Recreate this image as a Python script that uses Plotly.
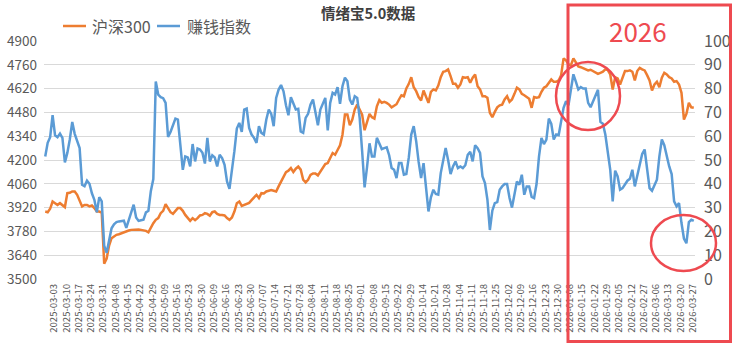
import pandas as pd
import plotly.graph_objects as go

# Trading calendar: weekdays from 2025-03-03, minus exchange holidays
start_date = "2025-03-03"
end_date = "2026-04-02"
holidays = [
    "2025-04-04", "2025-05-01", "2025-05-02", "2025-05-05", "2025-06-02",
    "2025-10-01", "2025-10-02", "2025-10-03", "2025-10-06", "2025-10-07",
    "2025-10-08", "2026-01-01", "2026-01-02", "2026-02-16", "2026-02-17",
    "2026-02-18", "2026-02-19", "2026-02-20", "2026-02-23",
]

# 沪深300 closing level (left axis)
hs300 = [
    3897, 3893, 3913, 3956, 3946, 3936, 3946, 3936, 3923, 4005,
    4007, 4015, 4015, 3995, 3960, 3927, 3936, 3936, 3927, 3932,
    3917, 3897, 3897, 3891, 3590, 3620, 3697, 3740, 3750, 3760,
    3763, 3769, 3775, 3783, 3785, 3789, 3791, 3793, 3791, 3789,
    3787, 3783, 3775, 3803, 3828, 3848, 3858, 3887, 3901, 3940,
    3913, 3893, 3883, 3901, 3917, 3917, 3901, 3877, 3858, 3842,
    3858, 3846, 3858, 3874, 3877, 3887, 3883, 3872, 3893, 3897,
    3883, 3877, 3877, 3874, 3858, 3848, 3862, 3897, 3946, 3956,
    3930, 3936, 3944, 3948, 3964, 3982, 3995, 3976, 4005, 4003,
    4015, 4019, 4023, 4019, 4015, 4045, 4074, 4104, 4129, 4137,
    4153, 4129, 4149, 4161, 4143, 4084, 4068, 4084, 4113, 4121,
    4121, 4109, 4129, 4153, 4176, 4182, 4208, 4241, 4231, 4259,
    4286, 4349, 4467, 4467, 4404, 4438, 4497, 4526, 4497, 4467,
    4375, 4420, 4471, 4452, 4444, 4516, 4552, 4536, 4542, 4536,
    4526, 4510, 4520, 4528, 4556, 4581, 4575, 4621, 4648, 4687,
    4628, 4605, 4570, 4550, 4609, 4570, 4536, 4601, 4615, 4609,
    4638, 4687, 4719, 4723, 4733, 4693, 4648, 4648, 4625, 4644,
    4687, 4684, 4687, 4654, 4684, 4703, 4634, 4615, 4575, 4575,
    4566, 4477, 4452, 4483, 4510, 4522, 4526, 4556, 4575, 4542,
    4556, 4589, 4625, 4615, 4589, 4581, 4568, 4560, 4507, 4570,
    4566, 4570, 4601, 4625, 4634, 4654, 4674, 4660, 4660, 4668,
    4699, 4798, 4786, 4762, 4758, 4798, 4772, 4750, 4746, 4739,
    4733, 4727, 4731, 4723, 4719, 4707, 4713, 4719, 4733, 4729,
    4703, 4615, 4687, 4680, 4644, 4687, 4723, 4723, 4727, 4719,
    4668, 4723, 4742, 4733, 4727, 4699, 4668, 4609, 4644, 4660,
    4628, 4684, 4713, 4703, 4687, 4680, 4660, 4664, 4644, 4595,
    4438, 4471, 4536, 4510, 4507,
]

# 赚钱指数 (right axis, 0-100)
money_index = [
    51.5, 57.2, 59.6, 68.8, 60.4, 59.6, 61.1, 59.3, 49.0, 53.0,
    58.6, 66.0, 61.0, 57.9, 55.0, 39.6, 39.0, 41.3, 40.0, 36.0,
    33.3, 28.0, 34.4, 32.6, 14.0, 11.0, 17.0, 21.3, 23.0, 23.9,
    24.2, 24.2, 24.5, 21.5, 24.9, 28.4, 31.2, 25.8, 24.4, 24.7,
    24.9, 28.0, 28.7, 37.0, 42.0, 83.0, 77.5, 76.4, 76.0, 74.0,
    59.7, 61.8, 64.6, 67.4, 67.0, 56.5, 45.9, 51.5, 51.1, 47.3,
    56.7, 49.4, 54.8, 54.4, 53.0, 48.5, 59.3, 49.4, 52.0, 51.1,
    47.3, 52.2, 50.8, 48.0, 41.0, 37.9, 45.2, 53.7, 63.2, 65.6,
    61.8, 71.2, 71.6, 63.5, 60.7, 59.3, 57.2, 64.2, 61.4, 60.7,
    67.0, 71.2, 69.4, 64.2, 76.1, 79.6, 81.5, 78.9, 73.0, 68.8,
    76.4, 73.3, 71.2, 71.5, 62.0, 61.4, 67.7, 69.4, 73.3, 75.4,
    69.8, 64.6, 71.2, 74.0, 76.1, 62.4, 74.0, 78.2, 77.5, 80.6,
    73.6, 81.0, 84.6, 83.1, 75.4, 73.3, 76.8, 76.1, 67.7, 53.7,
    38.5, 47.0, 57.0, 51.5, 51.5, 59.3, 56.5, 54.6, 55.0, 55.3,
    52.0, 46.6, 45.9, 42.4, 48.7, 48.7, 43.8, 44.1, 51.1, 60.7,
    64.2, 57.9, 49.2, 42.4, 48.7, 39.6, 28.4, 34.3, 37.5, 35.7,
    35.4, 44.5, 49.2, 55.0, 50.0, 44.1, 47.3, 49.4, 46.6, 47.3,
    46.6, 47.8, 52.2, 53.4, 49.4, 56.2, 55.0, 53.0, 43.1, 40.3,
    33.3, 20.6, 28.7, 31.9, 32.3, 37.5, 38.9, 39.9, 39.9, 34.0,
    30.0, 36.1, 41.0, 39.6, 43.8, 35.4, 38.9, 38.9, 34.5, 34.0,
    39.9, 51.5, 59.3, 56.7, 58.6, 67.4, 65.2, 58.6, 60.7, 60.4,
    65.6, 71.9, 74.7, 73.0, 79.6, 86.0, 82.9, 79.6, 80.6, 80.0,
    80.0, 74.0, 72.2, 74.7, 77.5, 79.5, 66.0, 65.2, 60.7, 53.7,
    45.9, 32.6, 45.5, 43.1, 37.5, 38.2, 39.6, 41.3, 42.1, 45.9,
    38.9, 43.8, 48.7, 52.5, 54.4, 47.3, 38.2, 37.1, 39.6, 41.7,
    51.5, 58.6, 56.2, 51.5, 47.3, 44.1, 32.6, 30.5, 31.9, 23.5,
    17.0, 15.0, 23.9, 24.9, 24.4,
]

left_ticks = [3500, 3640, 3780, 3920, 4060, 4200, 4340, 4480, 4620, 4760, 4900]
right_ticks = [0, 10, 20, 30, 40, 50, 60, 70, 80, 90, 100]
label_every = 5

days = pd.bdate_range(start_date, end_date)
days = days[~days.isin(pd.to_datetime(holidays))]
dates = [d.strftime("%Y-%m-%d") for d in days][: len(hs300)]
tick_dates = dates[::label_every]

ORANGE = "#ED7D31"
BLUE = "#5B9BD5"
RED = "#EE4A50"
GREY = "#595959"
FONT = "Noto Sans CJK SC"

W, H = 735, 347
ML, MR, MT, MB = 44, 40, 41, 68
PW, PH = W - ML - MR, H - MT - MB


def px(x):
    return (x - ML) / PW


def py(y):
    return (H - MB - y) / PH


fig = go.Figure()
fig.add_trace(go.Scatter(
    x=dates, y=hs300, name="沪深300", mode="lines",
    line=dict(color=ORANGE, width=2.5), yaxis="y", showlegend=False,
))
fig.add_trace(go.Scatter(
    x=dates, y=money_index, name="赚钱指数", mode="lines",
    line=dict(color=BLUE, width=2.5), yaxis="y2", showlegend=False,
))

shapes = [
    # legend keys
    dict(type="line", xref="paper", yref="paper", x0=px(63), x1=px(86),
         y0=py(26), y1=py(26), line=dict(color=ORANGE, width=2.5)),
    dict(type="line", xref="paper", yref="paper", x0=px(157), x1=px(180),
         y0=py(26), y1=py(26), line=dict(color=BLUE, width=2.5)),
    # 2026 highlight frame and circles
    dict(type="rect", xref="paper", yref="paper", x0=px(568), x1=px(730.5),
         y0=py(5), y1=py(341.5), line=dict(color=RED, width=3), layer="above"),
    dict(type="circle", xref="paper", yref="paper", x0=px(556), x1=px(620),
         y0=py(62), y1=py(130), line=dict(color=RED, width=2.5), layer="above"),
    dict(type="circle", xref="paper", yref="paper", x0=px(651), x1=px(716),
         y0=py(215), y1=py(271), line=dict(color=RED, width=2.5), layer="above"),
]

annotations = [
    dict(text="<b>情绪宝5.0数据</b>", xref="paper", yref="paper", x=px(368), y=py(13),
         showarrow=False, font=dict(family=FONT, size=14.5, color="#404040"),
         xanchor="center", yanchor="middle"),
    dict(text="沪深300", xref="paper", yref="paper", x=px(90), y=py(26),
         showarrow=False, font=dict(family=FONT, size=16, color=GREY),
         xanchor="left", yanchor="middle"),
    dict(text="赚钱指数", xref="paper", yref="paper", x=px(185), y=py(26),
         showarrow=False, font=dict(family=FONT, size=16, color=GREY),
         xanchor="left", yanchor="middle"),
    dict(text="2026", xref="paper", yref="paper", x=px(638), y=py(31),
         showarrow=False, font=dict(family=FONT, size=26, color=RED),
         xanchor="center", yanchor="middle"),
]

fig.update_layout(
    width=W, height=H,
    margin=dict(l=ML, r=MR, t=MT, b=MB, pad=0, autoexpand=False),
    paper_bgcolor="white", plot_bgcolor="white",
    font=dict(family=FONT, color=GREY),
    xaxis=dict(
        type="category", range=[-0.5, len(dates) - 0.5], automargin=False,
        tickmode="array", tickvals=tick_dates, ticktext=tick_dates,
        tickangle=-90, tickfont=dict(size=9.5, color=GREY),
        showgrid=False, showline=False, zeroline=False, ticks="",
        ticklabelshift=9, ticklabelstandoff=2,
    ),
    yaxis=dict(
        range=[3500, 4900], tickmode="array", tickvals=left_ticks,
        tickfont=dict(size=13.5, color=GREY), automargin=False,
        gridcolor="#D9D9D9", gridwidth=1, zeroline=False, showline=False,
        ticks="", ticklabelstandoff=6,
    ),
    yaxis2=dict(
        range=[0, 100], tickmode="array", tickvals=right_ticks,
        overlaying="y", side="right", showgrid=False, zeroline=False,
        automargin=False,
        tickfont=dict(size=16, color=GREY), ticks="", ticklabelstandoff=8,
    ),
    shapes=shapes,
    annotations=annotations,
)

fig.write_html("out.html")
